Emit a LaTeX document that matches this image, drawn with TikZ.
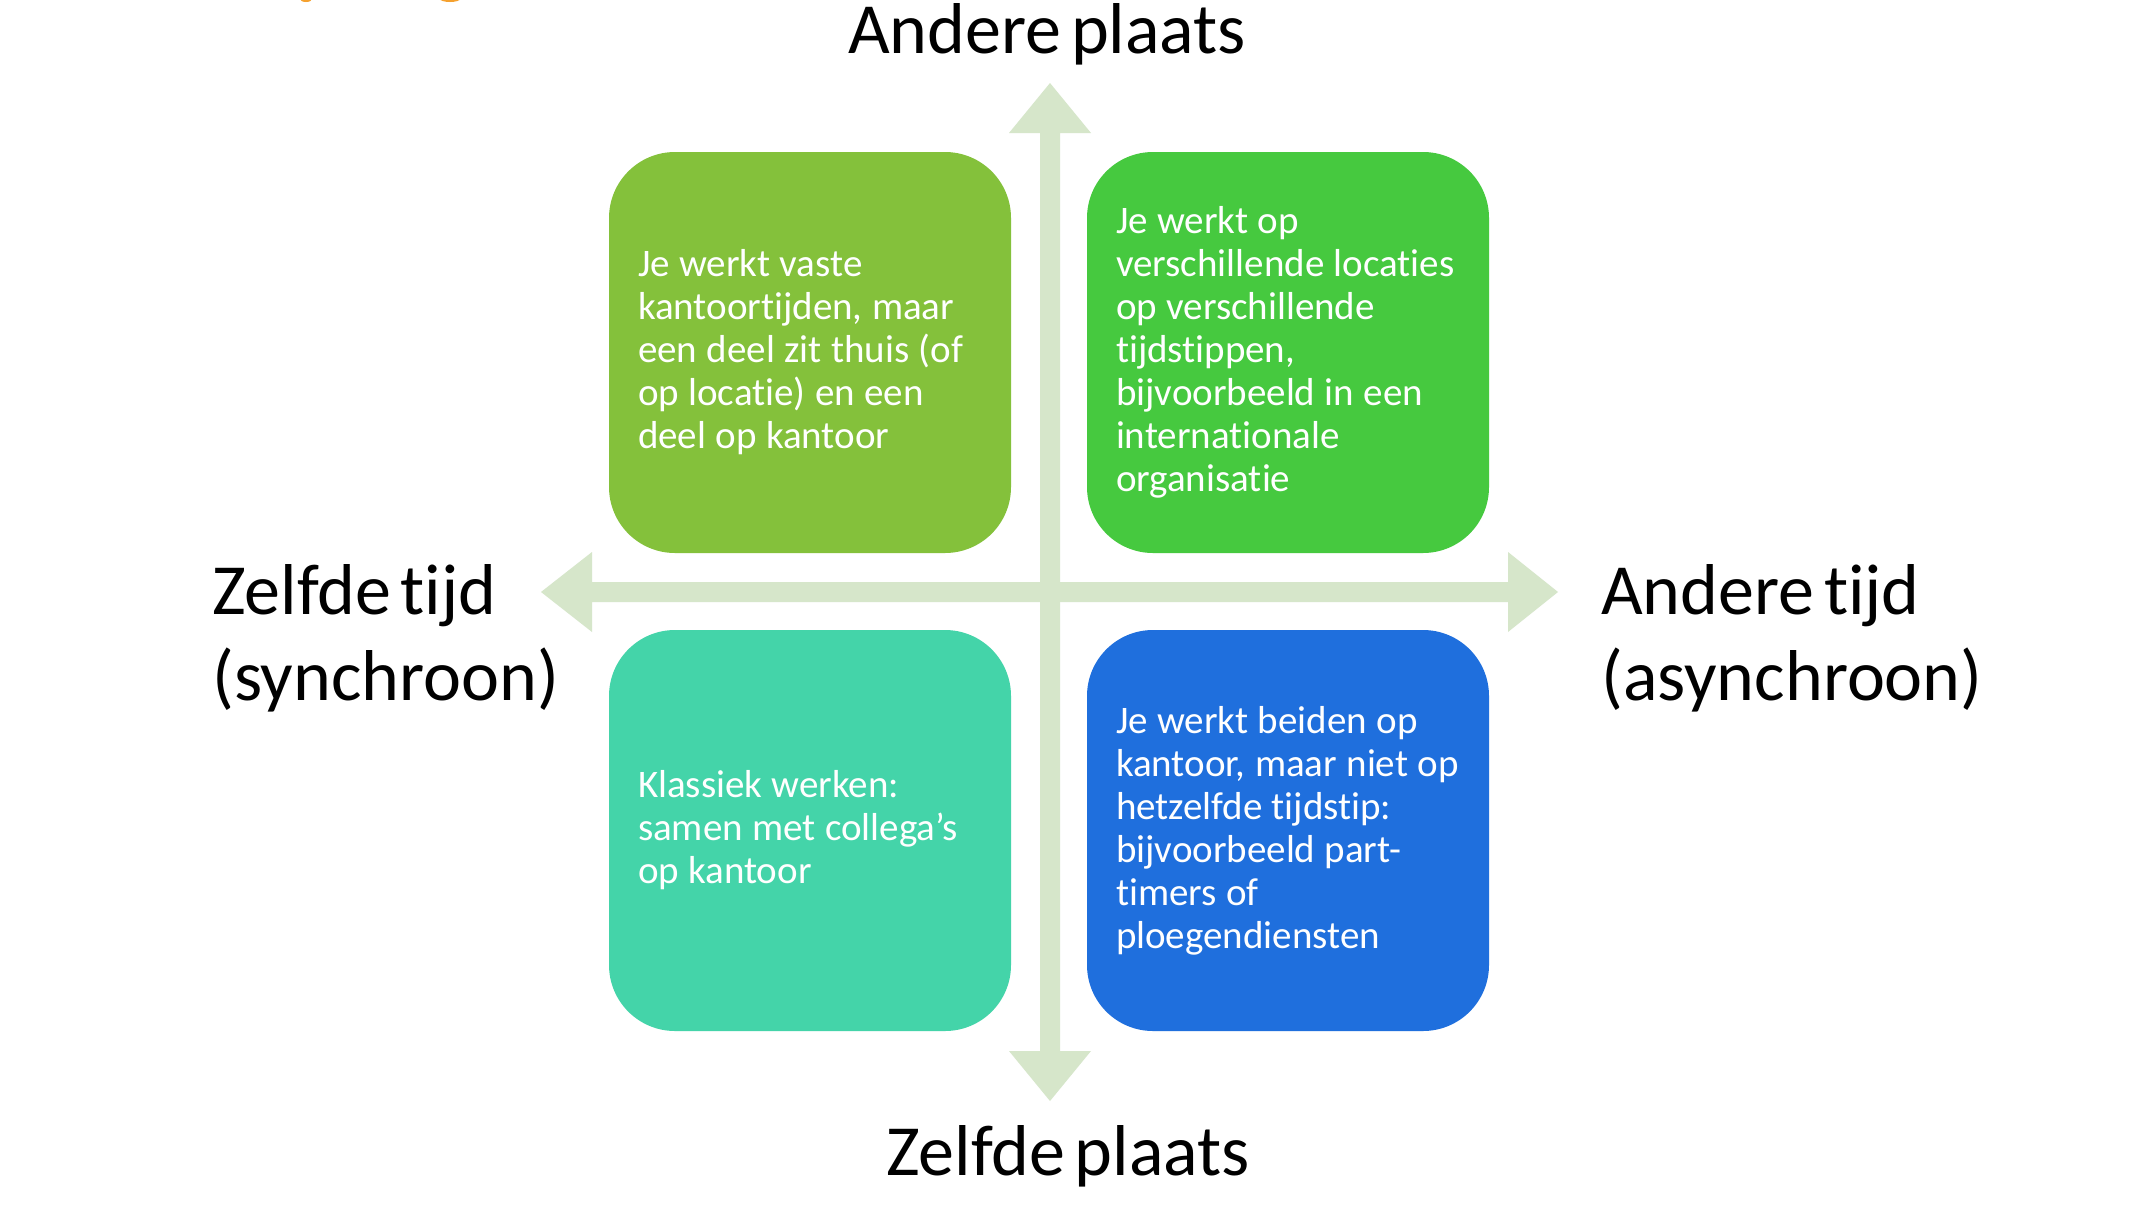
\documentclass[tikz,border=0pt]{standalone}
\usepackage{fontspec}
\setmainfont{Carlito}[Ligatures={NoCommon}, WordSpace=0.6]
\definecolor{arrowc}{HTML}{D6E6CA}
\definecolor{tlc}{HTML}{84C13B}
\definecolor{trc}{HTML}{46C93F}
\definecolor{blc}{HTML}{44D4A9}
\definecolor{brc}{HTML}{1F6FDD}
\definecolor{orangec}{HTML}{F5A12E}
\begin{document}
\begin{tikzpicture}[x=1pt,y=-1pt,
  qbox/.style={rectangle, rounded corners=66pt, minimum width=402pt, minimum height=401pt,
    text width=344pt, inner xsep=29pt, inner ysep=0pt, align=left, text=white,
    font=\fontsize{39}{43}\selectfont,
    execute at begin node={\spaceskip=9.4pt\relax\xspaceskip=9.4pt\relax}},
  biglabel/.style={inner sep=0pt, font=\fontsize{72}{86}\selectfont, text=black},
  arrowfill/.style={fill=arrowc, draw=none}]
\useasboundingbox (0,0) rectangle (2142,1205);
\fill[white] (0,0) rectangle (2142,1205);
% cut-off title fragments
\fill[orangec] (306,-1) ellipse [x radius=6pt, y radius=3pt];
\fill[orangec] (450,-1) ellipse [x radius=10pt, y radius=3pt];
% axis arrows
\coordinate (vt) at (1050,83);
\coordinate (vb) at (1050,1101);
\coordinate (hl) at (541,592);
\coordinate (hr) at (1558,592);
\fill[arrowfill] (hl) -- (592,552) -- (592,582) -- (1508,582) -- (1508,552) -- (hr)
  -- (1508,632) -- (1508,602) -- (592,602) -- (592,632) -- cycle;
\fill[arrowfill] (vt) -- (1091,133) -- (1060,133) -- (1060,1051) -- (1091,1051) -- (vb)
  -- (1009,1051) -- (1040,1051) -- (1040,133) -- (1009,133) -- cycle;
% quadrant boxes
\node[qbox, fill=tlc] (tl) at (810,352.5) {Je werkt vaste\\kantoortijden, maar\\een deel zit thuis (of\\op locatie) en een\\deel op kantoor};
\node[qbox, fill=trc] (tr) at (1288,352.5) {Je werkt op\\verschillende locaties\\op verschillende\\tijdstippen,\\bijvoorbeeld in een\\internationale\\organisatie};
\node[qbox, fill=blc] (bl) at (810,830.5) {Klassiek werken:\\samen met collega’s\\op kantoor};
\node[qbox, fill=brc] (br) at (1288,830.5) {Je werkt beiden op\\kantoor, maar niet op\\hetzelfde tijdstip:\\bijvoorbeeld part-\\timers of\\ploegendiensten};
% axis labels
\node[biglabel, anchor=base] (top) at (1047,53) {Andere plaats};
\node[biglabel, anchor=base] (bottom) at (1068,1175) {Zelfde plaats};
\node[biglabel, anchor=base west, align=left] (left) at (212,700) {Zelfde tijd\\(synchroon)};
\node[biglabel, anchor=base west, align=left] (right) at (1601,700) {Andere tijd\\(asynchroon)};
\end{tikzpicture}
\end{document}
